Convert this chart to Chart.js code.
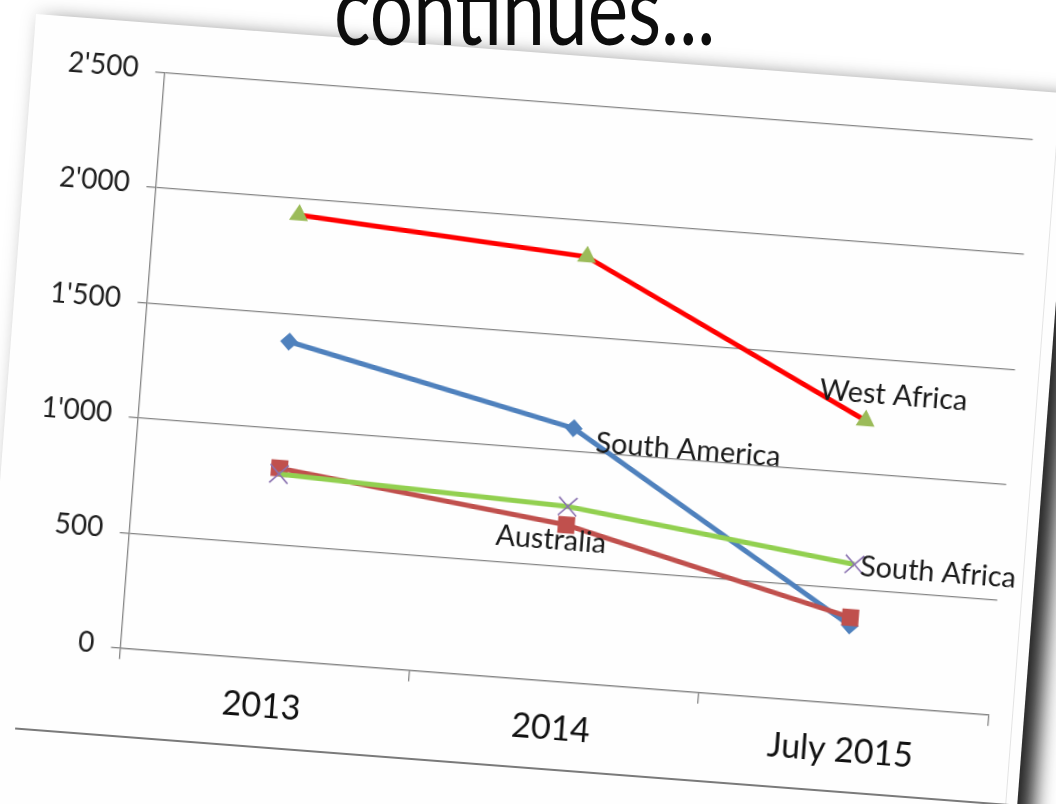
<!DOCTYPE html>
<html>
<head>
<meta charset="utf-8">
<script src="https://cdn.jsdelivr.net/npm/chart.js@4.4.0/dist/chart.umd.min.js"></script>
<style>
  html, body { margin: 0; padding: 0; width: 1056px; height: 804px; overflow: hidden; background: #ffffff; }
  #title {
    position: absolute; left: 334px; top: -42px; z-index: 3;
    font-family: Lato, sans-serif; font-size: 98px; line-height: 98px; color: #0d0d0d;
    white-space: nowrap; transform-origin: 0 0; transform: scaleX(0.78);
  }
  #sheet {
    position: absolute; left: 36px; top: 14px; width: 1039px; height: 900px;
    background: #fefefe; transform-origin: 0 0; transform: rotate(4.4deg);
    box-shadow: 0 -4px 18px rgba(0,0,0,0.10), 16px 10px 20px rgba(0,0,0,0.85);
  }
  #sheet canvas { position: absolute; left: 0; top: 0; }
  #rightRule { position: absolute; left: 1027px; top: 0; height: 900px; border-left: 1px solid #e4e4e4; }
  #bottomRule { position: absolute; left: 34px; top: 713px; width: 1005px; border-top: 2px solid #7a7a7a; }
</style>
</head>
<body>
<div id="title">continues...</div>
<div id="sheet">
  <canvas id="chart" width="1027" height="715"></canvas>
  <div id="rightRule"></div>
  <div id="bottomRule"></div>
</div>
<script>
// categories and series
const years = ['2013', '2014', 'July 2015'];
const westAfrica = [1930, 1845, 1230];
const southAmerica = [1380, 1100, 340];
const australia = [830, 680, 375];
const southAfrica = [805, 760, 605];

// value axis
const yMin = 0;
const yMax = 2500;
const yStep = 500;

const GRID_GREY = '#858585';

// where each series name sits next to one of its points
const labelSpots = [
  { dataset: 0, index: 2, dx: 26, dy: -27, align: 'center' },
  { dataset: 1, index: 1, dx: 23, dy: 13, align: 'left' },
  { dataset: 2, index: 1, dx: -14, dy: 16, align: 'center' },
  { dataset: 3, index: 2, dx: 6, dy: 2, align: 'left' }
];

function fmtThousands(v) {
  return String(v).replace(/\B(?=(\d{3})+(?!\d))/g, "'");
}

const seriesLabels = {
  id: 'seriesLabels',
  afterDatasetsDraw(chart) {
    const ctx = chart.ctx;
    ctx.save();
    ctx.font = '28.8px Lato';
    ctx.fillStyle = '#1a1a1a';
    ctx.textBaseline = 'middle';
    labelSpots.forEach(function (spot) {
      const pt = chart.getDatasetMeta(spot.dataset).data[spot.index];
      ctx.textAlign = spot.align;
      ctx.fillText(chart.data.datasets[spot.dataset].label, pt.x + spot.dx, pt.y + spot.dy);
    });
    ctx.restore();
  }
};

new Chart(document.getElementById('chart'), {
  type: 'line',
  data: {
    labels: years,
    datasets: [{
      label: 'West Africa',
      data: westAfrica,
      borderColor: '#ff0000',
      borderWidth: 5,
      pointStyle: 'triangle',
      pointRadius: 11,
      pointBackgroundColor: '#9bbb59',
      pointBorderWidth: 0,
      order: 1
    }, {
      label: 'South America',
      data: southAmerica,
      borderColor: '#4f81bd',
      borderWidth: 5,
      pointStyle: 'rectRot',
      pointRadius: 9,
      pointBackgroundColor: '#4f81bd',
      pointBorderWidth: 0,
      order: 4
    }, {
      label: 'Australia',
      data: australia,
      borderColor: '#c0504d',
      borderWidth: 5,
      pointStyle: 'rect',
      pointRadius: 12,
      pointBackgroundColor: '#c0504d',
      pointBorderWidth: 0,
      order: 3
    }, {
      label: 'South Africa',
      data: southAfrica,
      borderColor: '#92d050',
      borderWidth: 5,
      pointStyle: 'crossRot',
      pointRadius: 13,
      pointBorderColor: '#8a72b0',
      pointBorderWidth: 1.6,
      order: 2
    }]
  },
  options: {
    responsive: false,
    animation: false,
    layout: { padding: { top: 48.7, right: 23.6, left: 0, bottom: 0 } },
    elements: { line: { tension: 0 } },
    plugins: {
      legend: { display: false },
      tooltip: { enabled: false }
    },
    scales: {
      x: {
        offset: true,
        grid: { offset: true, drawOnChartArea: false, tickLength: 11, color: GRID_GREY, lineWidth: 1.3 },
        border: { color: GRID_GREY, width: 1.3 },
        ticks: { font: { family: 'Lato', size: 34 }, color: '#111111', padding: 16, maxRotation: 0 },
        afterFit: function (s) { s.height = 89.3; }
      },
      y: {
        min: yMin,
        max: yMax,
        grid: { color: GRID_GREY, lineWidth: 1.3, tickLength: 9 },
        border: { color: GRID_GREY, width: 1.3 },
        ticks: {
          stepSize: yStep,
          callback: fmtThousands,
          font: { family: 'Lato', size: 28 },
          color: '#1f1f1f',
          padding: 17,
          labelOffset: -3
        },
        afterFit: function (s) { s.width = 132.4; }
      }
    }
  },
  plugins: [seriesLabels]
});
</script>
</body>
</html>
